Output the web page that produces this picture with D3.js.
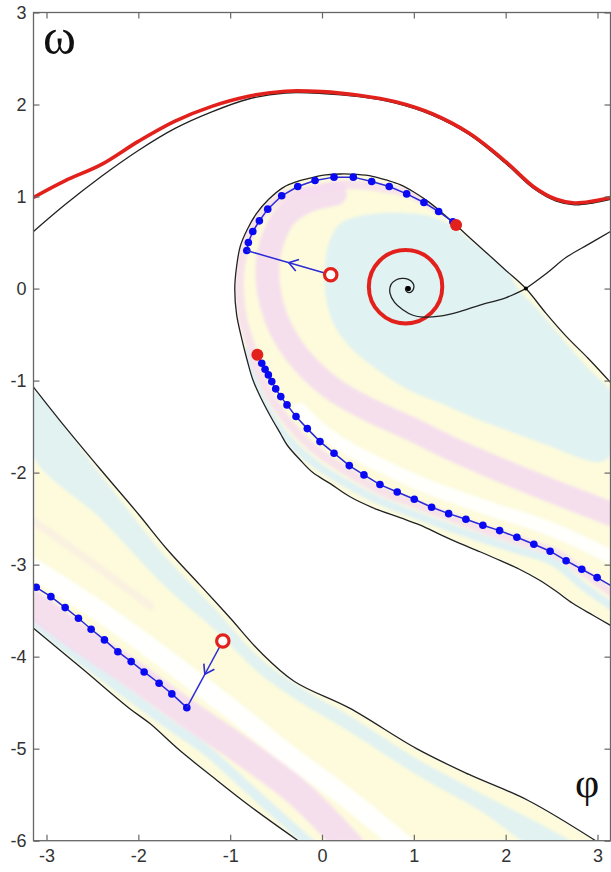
<!DOCTYPE html>
<html>
<head>
<meta charset="utf-8">
<script src="https://cdn.jsdelivr.net/npm/d3@7"></script>
<style>
  html, body { margin: 0; padding: 0; background: #fff; }
  svg { display: block; }
</style>
</head>
<body>
<svg id="chart" width="611" height="872"></svg>
<script>
// ---- Phase-plane data (φ, ω) -------------------------------------------
const xTicks = [-3, -2, -1, 0, 1, 2, 3];
const yTicks = [-6, -5, -4, -3, -2, -1, 0, 1, 2, 3];

// stable rotating limit cycle (red)
const limitCycle = [[-3.1416,0.99],[-2.8,1.17],[-2.4,1.35],[-2.0,1.60],[-1.6,1.82],[-1.2,1.98],[-0.8,2.09],[-0.4,2.145],[0.0,2.14],[0.4,2.10],[0.8,2.03],[1.2,1.90],[1.6,1.69],[2.0,1.38],[2.3,1.11],[2.55,0.97],[2.75,0.93],[2.95,0.95],[3.1416,0.99]];

// unstable manifold of the saddle: right branch, then its continuation after wrapping
const unstableToRight = [[2.22,0.0],[2.45,0.17],[2.66,0.34],[2.9,0.48],[3.1416,0.62]];
const rotatingBranch = [[-3.1416,0.62],[-2.8,0.91],[-2.4,1.22],[-2.0,1.50],[-1.6,1.74],[-1.2,1.92],[-0.8,2.06],[-0.4,2.125],[0.0,2.12],[0.4,2.085],[0.8,2.015],[1.2,1.885],[1.6,1.675],[2.0,1.36],[2.3,1.09],[2.55,0.95],[2.75,0.91],[2.95,0.93],[3.1416,0.97]];
// left branch spiralling into the focus
const unstableSpiral = [[2.22,0.0],[2.0,-0.10],[1.72,-0.18],[1.5,-0.25],[1.28,-0.30],[1.1,-0.31],[0.99,-0.29],[0.88,-0.23],[0.79,-0.15],[0.74,-0.05],[0.75,0.04],[0.80,0.09],[0.87,0.11],[0.94,0.10],[0.99,0.06],[1.0,0.01],[0.98,-0.03],[0.95,-0.045],[0.92,-0.03],[0.91,0.0],[0.925,0.02],[0.945,0.015],[0.95,0.0]];

// stable manifold of the saddle (basin boundary)
const separatrixLoop = [[3.1416,-1.02],[2.9,-0.76],[2.66,-0.52],[2.44,-0.27],[2.22,0.0],[2.0,0.20],[1.80,0.38],[1.60,0.56],[1.46,0.69],[1.30,0.83],[1.15,0.95],[1.00,1.05],[0.85,1.13],[0.70,1.18],[0.55,1.22],[0.38,1.24],[0.20,1.245],[0.0,1.23],[-0.13,1.20],[-0.28,1.16],[-0.42,1.10],[-0.58,0.97],[-0.71,0.82],[-0.81,0.65],[-0.89,0.46],[-0.93,0.24],[-0.95,0.0],[-0.93,-0.28],[-0.88,-0.52],[-0.82,-0.76],[-0.75,-1.0],[-0.66,-1.2],[-0.56,-1.39],[-0.45,-1.58],[-0.38,-1.70],[-0.24,-1.86],[-0.1,-2.0],[0.09,-2.12],[0.3,-2.26],[0.55,-2.38],[0.85,-2.49],[1.07,-2.57],[1.3,-2.68],[1.5,-2.77],[1.72,-2.86],[1.95,-2.96],[2.15,-3.05],[2.37,-3.17],[2.55,-3.29],[2.73,-3.42],[2.95,-3.55],[3.1416,-3.66]];
const stableUpperLeft = [[-3.1416,-1.07],[-2.8,-1.5],[-2.4,-1.98],[-2.0,-2.45],[-1.69,-2.83],[-1.33,-3.22],[-1.0,-3.58],[-0.67,-3.95],[-0.3,-4.27],[0.3,-4.56],[1.03,-5.0],[1.6,-5.28],[2.24,-5.56],[2.98,-6.0]];
const stableLowerLeft = [[-3.1416,-3.69],[-2.6,-4.14],[-2.1,-4.56],[-1.87,-4.73],[-1.56,-5.01],[-1.2,-5.30],[-0.79,-5.62],[-0.26,-6.0]];

// equilibria and the unstable small cycle
const focus = [0.94, 0.0];
const saddle = [2.22, 0.0];
const smallCycleCenter = [0.91, 0.02];
const smallCycleRadius = 0.40;

// pulse-driven trajectories (blue)
const trajectoryTop = [[-0.819,0.413],[-0.802,0.500],[-0.754,0.620],[-0.682,0.736],[-0.591,0.863],[-0.439,1.008],[-0.264,1.109],[-0.076,1.174],[0.131,1.211],[0.341,1.211],[0.541,1.163],[0.732,1.109],[0.922,1.029],[1.110,0.935],[1.270,0.837],[1.425,0.725]];
const trajectoryLoop = [[-0.704,-0.72],[-0.656,-0.811],[-0.620,-0.876],[-0.584,-0.938],[-0.547,-1.011],[-0.504,-1.090],[-0.449,-1.174],[-0.381,-1.264],[-0.283,-1.391],[-0.160,-1.522],[-0.022,-1.663],[0.131,-1.789],[0.297,-1.924],[0.457,-2.025],[0.631,-2.130],[0.819,-2.210],[1.005,-2.289],[1.194,-2.376],[1.379,-2.446],[1.567,-2.507],[1.752,-2.572],[1.934,-2.630],[2.122,-2.702],[2.307,-2.778],[2.484,-2.854],[2.658,-2.957],[2.829,-3.050],[2.996,-3.141],[3.1416,-3.225]];
const trajectoryLower = [[-3.1416,-3.225],[-3.112,-3.246],[-2.952,-3.348],[-2.797,-3.467],[-2.652,-3.583],[-2.514,-3.702],[-2.369,-3.818],[-2.223,-3.946],[-2.078,-4.054],[-1.937,-4.166],[-1.774,-4.289],[-1.635,-4.405],[-1.472,-4.554]];

const pulseStarts = [[0.095, 0.15], [-1.08, -3.83]];
const pulseEnds = [[-0.819, 0.413], [-1.472, -4.554]];
const markedStates = [[1.46, 0.69], [-0.704, -0.72]];

// basin shading inside the separatrix loop
const loopCore = [[0.087,0.527],[0.196,0.703],[0.479,0.801],[0.849,0.823],[1.208,0.779],[1.415,0.682],[1.611,0.529],[1.828,0.366],[2.024,0.182],[2.144,-0.014],[2.372,-0.253],[2.655,-0.590],[2.916,-0.884],[3.1416,-1.134],[3.1416,-1.808],[3.025,-1.884],[2.807,-1.840],[2.535,-1.732],[2.209,-1.612],[1.882,-1.492],[1.556,-1.362],[1.284,-1.242],[1.012,-1.134],[0.794,-1.014],[0.577,-0.862],[0.359,-0.688],[0.196,-0.503],[0.087,-0.286],[0.033,-0.014],[0.033,0.258]];
const loopPinkBand = [[0.14,1.03],[-0.19,0.94],[-0.40,0.79],[-0.53,0.55],[-0.59,0.29],[-0.58,-0.02],[-0.50,-0.32],[-0.35,-0.61],[-0.13,-0.88],[0.16,-1.12],[0.52,-1.32],[0.96,-1.52],[1.39,-1.73],[1.94,-1.97],[2.48,-2.19],[3.15,-2.45]];
const loopRimPink = [[1.28,0.85],[0.96,1.03],[0.63,1.10],[0.25,1.13],[-0.13,1.07],[-0.40,1.02],[-0.62,0.85],[-0.78,0.61],[-0.88,0.29],[-0.90,-0.02],[-0.86,-0.34],[-0.78,-0.61],[-0.70,-0.88],[-0.59,-1.12],[-0.44,-1.36],[-0.24,-1.60],[0.00,-1.81],[0.28,-1.99],[0.63,-2.19],[1.01,-2.34],[1.39,-2.48],[1.77,-2.62],[2.15,-2.74],[2.53,-2.87],[2.86,-3.09],[3.15,-3.30]];
const loopRimBlue = [[-0.84,-0.69],[-0.76,-0.97],[-0.65,-1.22],[-0.50,-1.47],[-0.29,-1.72],[-0.04,-1.93],[0.25,-2.11],[0.61,-2.30],[0.99,-2.45],[1.37,-2.59],[1.75,-2.72],[2.13,-2.84],[2.52,-2.97],[2.84,-3.23],[3.15,-3.45]];
const loopWhiteBand = [[-0.24,-1.32],[0.03,-1.57],[0.36,-1.78],[0.74,-1.97],[1.12,-2.14],[1.50,-2.28],[1.88,-2.41],[2.26,-2.53],[2.65,-2.68],[3.15,-2.92]];

// basin shading in the lower-left strip
const stripCyan = [[-3.142,-1.124],[-2.418,-2.015],[-1.691,-2.928],[-1.165,-3.482],[-0.675,-4.015],[-0.240,-4.330],[0.305,-4.645],[1.035,-5.112],[1.721,-5.482],[2.810,-6.101],[2.374,-6.101],[1.721,-5.673],[1.035,-5.286],[0.305,-4.818],[-0.240,-4.493],[-0.675,-4.188],[-1.165,-3.710],[-1.691,-3.254],[-2.418,-2.493],[-3.15,-1.808]];
const stripPinkBand = [[-3.15,-3.43],[-2.64,-3.80],[-2.09,-4.17],[-1.49,-4.60],[-0.89,-5.01],[-0.24,-5.50],[0.30,-6.05]];
const stripRimBlue = [[-3.15,-3.62],[-2.42,-4.18],[-1.66,-4.74],[-1.27,-5.01],[-0.78,-5.45],[-0.11,-6.05]];
const stripWhiteBand = [[-3.15,-3.04],[-2.42,-3.51],[-1.66,-4.06],[-1.00,-4.56],[-0.40,-5.04],[0.25,-5.52],[0.90,-6.05]];
const stripFaintPink = [[-3.15,-2.52],[-2.52,-2.97],[-1.87,-3.45]];

// ---- Scales -------------------------------------------------------------
const plotL = 33.5, plotR = 610.5, plotT = 12.5, plotB = 840.7;
const x = d3.scaleLinear().domain([-Math.PI, Math.PI]).range([plotL, plotR]);
const y = d3.scaleLinear().domain([-6, 3]).range([plotB, plotT]);

const svg = d3.select("#chart");
const defs = svg.append("defs");

defs.append("clipPath").attr("id", "plotClip")
  .append("rect").attr("x", plotL).attr("y", plotT)
  .attr("width", plotR - plotL).attr("height", plotB - plotT);

const smooth = d3.line().x(d => x(d[0])).y(d => y(d[1])).curve(d3.curveCatmullRom.alpha(0.5));
const smoothClosed = d3.line().x(d => x(d[0])).y(d => y(d[1])).curve(d3.curveCatmullRomClosed.alpha(0.5));
const straight = d3.line().x(d => x(d[0])).y(d => y(d[1]));

// basin regions
const loopRegion = smooth(separatrixLoop) + "Z";
const stripRegion = smooth(stableUpperLeft) + smooth(stableLowerLeft.slice().reverse()).replace(/^M/, "L") + "Z";

defs.append("clipPath").attr("id", "loopClip").append("path").attr("d", loopRegion);
defs.append("clipPath").attr("id", "stripClip").append("path").attr("d", stripRegion);
defs.append("filter").attr("id", "soft").attr("x", "-5%").attr("y", "-5%").attr("width", "110%").attr("height", "110%")
  .append("feGaussianBlur").attr("stdDeviation", 1.8);

const yellow = "#fdfbdb", cyan = "#e0f2f2", pink = "#f5dcee", pale = "#dcf0f5";

const plot = svg.append("g").attr("clip-path", "url(#plotClip)");

function band(g, pts, color, width, opacity) {
  g.append("path").attr("d", smooth(pts)).attr("fill", "none")
    .attr("stroke", color).attr("stroke-width", width)
    .attr("stroke-linecap", "round").attr("stroke-linejoin", "round")
    .attr("opacity", opacity == null ? 1 : opacity);
}

// shading inside the loop
const loopG = plot.append("g").attr("clip-path", "url(#loopClip)").append("g").attr("filter", "url(#soft)");
loopG.append("path").attr("d", loopRegion).attr("fill", yellow);
band(loopG, loopWhiteBand, "#ffffff", 14, 0.9);
band(loopG, loopRimBlue, pale, 8, 0.9);
band(loopG, loopRimPink, pink, 9, 0.8);
band(loopG, loopPinkBand, pink, 24, 0.9);
loopG.append("path").attr("d", smoothClosed(loopCore)).attr("fill", cyan);

// shading in the lower-left strip
const stripG = plot.append("g").attr("clip-path", "url(#stripClip)").append("g").attr("filter", "url(#soft)");
stripG.append("path").attr("d", stripRegion).attr("fill", yellow);
band(stripG, stripWhiteBand, "#ffffff", 20, 0.95);
band(stripG, stripFaintPink, pink, 8, 0.3);
band(stripG, stripRimBlue, pale, 10, 0.9);
band(stripG, stripPinkBand, pink, 28, 0.9);
stripG.append("path").attr("d", smoothClosed(stripCyan)).attr("fill", pale).attr("opacity", 0.85);

// manifolds
const ink = "#222";
[rotatingBranch, unstableToRight, separatrixLoop, stableUpperLeft, stableLowerLeft].forEach(pts => {
  plot.append("path").attr("d", smooth(pts)).attr("fill", "none")
    .attr("stroke", ink).attr("stroke-width", 1.3);
});

// red rotating cycle
plot.append("path").attr("d", smooth(limitCycle)).attr("fill", "none")
  .attr("stroke", "#e3211c").attr("stroke-width", 3.6);

// unstable small cycle around the focus
plot.append("circle").attr("cx", x(smallCycleCenter[0])).attr("cy", y(smallCycleCenter[1]))
  .attr("r", x(smallCycleRadius) - x(0)).attr("fill", "none")
  .attr("stroke", "#e3211c").attr("stroke-width", 4);

// spiral into the focus
plot.append("path").attr("d", smooth(unstableSpiral)).attr("fill", "none")
  .attr("stroke", ink).attr("stroke-width", 1.3);
plot.append("circle").attr("cx", x(focus[0])).attr("cy", y(focus[1])).attr("r", 2.6).attr("fill", "#000");
plot.append("circle").attr("cx", x(saddle[0])).attr("cy", y(saddle[1])).attr("r", 2).attr("fill", "#000");

// blue trajectories
const blueLine = "#2a2ad6", blueDot = "#0a0af2";
[trajectoryTop, trajectoryLoop, trajectoryLower].forEach((pts, i) => {
  plot.append("path").attr("d", straight(pts)).attr("fill", "none")
    .attr("stroke", blueLine).attr("stroke-width", 1.5);
  const dots = pts.filter((d, j) => Math.abs(d[0]) < 3.13 && !(i === 1 && j === 0));
  plot.selectAll(null).data(dots).join("circle")
    .attr("cx", d => x(d[0])).attr("cy", d => y(d[1])).attr("r", 3.8).attr("fill", blueDot);
});

// pulse arrows
pulseStarts.forEach((s, i) => {
  const e = pulseEnds[i];
  const x0 = x(s[0]), y0 = y(s[1]), x1 = x(e[0]), y1 = y(e[1]);
  plot.append("line").attr("x1", x0).attr("y1", y0).attr("x2", x1).attr("y2", y1)
    .attr("stroke", blueLine).attr("stroke-width", 1.5);
  const len = Math.hypot(x1 - x0, y1 - y0);
  const ux = (x1 - x0) / len, uy = (y1 - y0) / len;
  const mx = (x0 + x1) / 2, my = (y0 + y1) / 2;
  const back = 9, half = 6;
  plot.append("path")
    .attr("d", `M${mx - ux * back - uy * half},${my - uy * back + ux * half}L${mx},${my}L${mx - ux * back + uy * half},${my - uy * back - ux * half}`)
    .attr("fill", "none").attr("stroke", blueLine).attr("stroke-width", 1.6);
});

// marked states (red)
plot.selectAll(null).data(markedStates).join("circle")
  .attr("cx", d => x(d[0])).attr("cy", d => y(d[1])).attr("r", 6).attr("fill", "#e3211c");
plot.selectAll(null).data(pulseStarts).join("circle")
  .attr("cx", d => x(d[0])).attr("cy", d => y(d[1])).attr("r", 6.2)
  .attr("fill", "#fff").attr("stroke", "#e3211c").attr("stroke-width", 3.2);

// ---- Frame and axes -----------------------------------------------------
const frame = "#666";
svg.append("rect").attr("x", plotL).attr("y", plotT).attr("width", plotR - plotL).attr("height", plotB - plotT)
  .attr("fill", "none").attr("stroke", frame).attr("stroke-width", 1.3);

function styleAxis(g) {
  g.select(".domain").remove();
  g.selectAll(".tick line").attr("stroke", frame).attr("stroke-width", 1.2);
  g.selectAll(".tick text").attr("fill", "#333").attr("font-family", "Liberation Sans, Arial, sans-serif").attr("font-size", 18);
}
const fmt = d => String(d);
svg.append("g").attr("transform", `translate(0,${plotB})`)
  .call(d3.axisBottom(x).tickValues(xTicks).tickFormat(fmt).tickSizeInner(-6).tickSizeOuter(0).tickPadding(9))
  .call(styleAxis);
svg.append("g").attr("transform", `translate(0,${plotT})`)
  .call(d3.axisTop(x).tickValues(xTicks).tickFormat("").tickSizeInner(-6).tickSizeOuter(0))
  .call(styleAxis);
svg.append("g").attr("transform", `translate(${plotL},0)`)
  .call(d3.axisLeft(y).tickValues(yTicks).tickFormat(fmt).tickSizeInner(-6).tickSizeOuter(0).tickPadding(7))
  .call(styleAxis);
svg.append("g").attr("transform", `translate(${plotR},0)`)
  .call(d3.axisRight(y).tickValues(yTicks).tickFormat("").tickSizeInner(-6).tickSizeOuter(0))
  .call(styleAxis);

// axis symbols
svg.append("text").attr("x", 43).attr("y", 54).text("ω")
  .attr("font-family", "Liberation Serif, Times New Roman, serif").attr("font-size", 50).attr("fill", "#111");
svg.append("text").attr("x", 575).attr("y", 797).text("φ")
  .attr("font-family", "Liberation Serif, Times New Roman, serif").attr("font-size", 42).attr("fill", "#111");
</script>
</body>
</html>
